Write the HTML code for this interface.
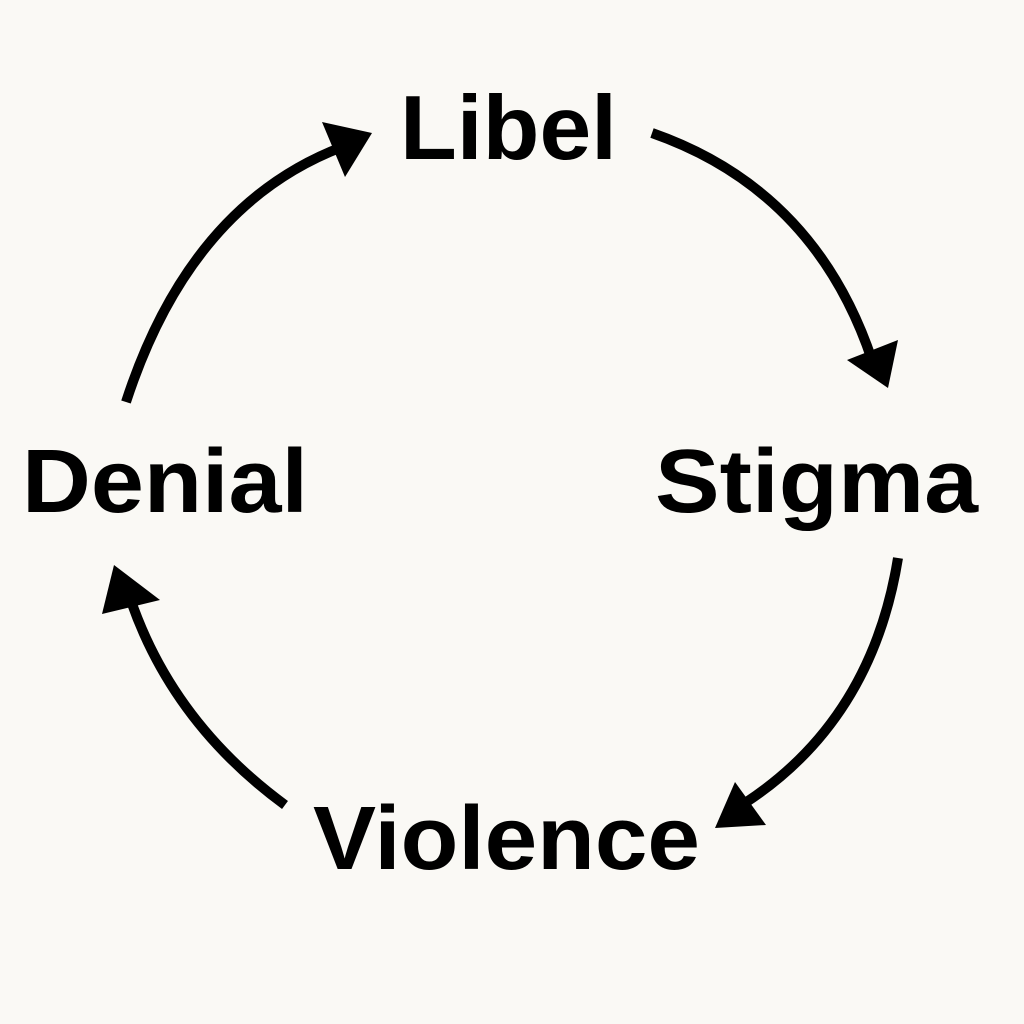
<!DOCTYPE html>
<html><head><meta charset="utf-8"><style>
html,body{margin:0;padding:0;background:#faf9f5;}
svg{display:block}
text{font-family:"Liberation Sans",Arial,sans-serif;font-weight:bold;fill:#000;}
</style></head><body>
<svg width="1024" height="1024" viewBox="0 0 1024 1024">
<rect width="1024" height="1024" fill="#faf9f5"/>
<g fill="none" stroke="#000" stroke-width="10" stroke-linecap="butt">
<path d="M126,402 Q190,205 342,147"/>
<path d="M652,133 Q815,190 872,360"/>
<path d="M898,558 Q872,720 745,803"/>
<path d="M285,805 Q172,722 130,598"/>
</g>
<g fill="#000">
<polygon points="372,133 322,122 345,177"/>
<polygon points="888,388 847,360 898,340"/>
<polygon points="715,828 735,782 766,825"/>
<polygon points="114,565 102,614 160,600"/>
</g>
<text x="400" y="159" font-size="91" textLength="217" lengthAdjust="spacingAndGlyphs">Libel</text>
<text x="22" y="512" font-size="90" textLength="286" lengthAdjust="spacingAndGlyphs">Denial</text>
<text x="655" y="512" font-size="90" textLength="323" lengthAdjust="spacingAndGlyphs">Stigma</text>
<text x="313" y="869" font-size="90" textLength="387" lengthAdjust="spacingAndGlyphs">Violence</text>
</svg>
</body></html>
